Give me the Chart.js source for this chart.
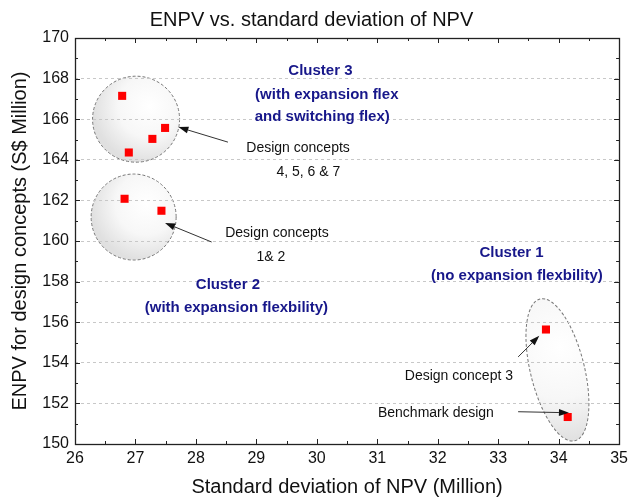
<!DOCTYPE html>
<html>
<head>
<meta charset="utf-8">
<script src="https://cdn.jsdelivr.net/npm/chart.js@4/dist/chart.umd.min.js"></script>
<style>
  html, body { margin:0; padding:0; background:#fff; }
  #wrap { width:633px; height:499px; }
</style>
</head>
<body>
<div id="wrap"><canvas id="chart" width="633" height="499"></canvas></div>
<script>
// ENPV vs. standard deviation of NPV - scatter with cluster annotations

// data (Million)
const conceptNames = ["4", "5", "6", "7", "1", "2", "3", "Benchmark"];
const stdNpv = [26.78, 26.89, 27.28, 27.49, 26.82, 27.43, 33.79, 34.15];
const enpv   = [167.15, 164.36, 165.03, 165.57, 162.08, 161.49, 155.64, 151.33];

// axes
const xMin = 26, xMax = 35, xStep = 1;
const yMin = 150, yMax = 170, yStep = 2;

const FONT = '"Liberation Sans", Arial, sans-serif';
const NAVY = "#17178a";

// shaded groups (centre in data units, radii in px)
const groups = [
  { cx: 27.01, cy: 166.0, rx: 43.5, ry: 43, rot: 0 },
  { cx: 26.97, cy: 161.18, rx: 42.5, ry: 43, rot: 0 },
  { cx: 33.98, cy: 153.65, rx: 27, ry: 73, rot: -13.8 }
];

// arrows: from -> to (data units)
const arrows = [
  [28.53, 164.87, 27.71, 165.61],
  [28.26, 159.95, 27.49, 160.89],
  [33.33, 154.29, 33.68, 155.33],
  [33.33, 151.59, 34.17, 151.54]
];

const notes = [
  { t: "Cluster 3", x: 30.06, y: 168.36, bold: true },
  { t: "(with expansion flex", x: 30.165, y: 167.18, bold: true },
  { t: "and switching flex)", x: 30.09, y: 166.10, bold: true },
  { t: "Design concepts", x: 29.69, y: 164.57 },
  { t: "4, 5, 6 & 7", x: 29.86, y: 163.39 },
  { t: "Design concepts", x: 29.34, y: 160.39 },
  { t: "1& 2", x: 29.24, y: 159.21 },
  { t: "Cluster 2", x: 28.53, y: 157.83, bold: true },
  { t: "(with expansion flexbility)", x: 28.67, y: 156.70, bold: true },
  { t: "Cluster 1", x: 33.22, y: 159.41, bold: true },
  { t: "(no expansion flexbility)", x: 33.31, y: 158.28, bold: true },
  { t: "Design concept 3", x: 32.35, y: 153.36 },
  { t: "Benchmark design", x: 31.97, y: 151.54 }
];

function drawBlob(ctx, cx, cy, g){
  ctx.save();
  ctx.translate(cx, cy);
  ctx.rotate(g.rot * Math.PI / 180);
  const r = Math.max(g.rx, g.ry);
  const grad = ctx.createRadialGradient(g.rx*0.3, -g.ry*0.3, 0, g.rx*0.3, -g.ry*0.3, r*1.3);
  grad.addColorStop(0, "#ffffff");
  grad.addColorStop(0.55, "#f7f7f7");
  grad.addColorStop(1, "#e0e0e0");
  ctx.beginPath();
  ctx.ellipse(0, 0, g.rx, g.ry, 0, 0, Math.PI*2);
  ctx.fillStyle = grad;
  ctx.fill();
  ctx.setLineDash([3, 2]);
  ctx.strokeStyle = "#777";
  ctx.lineWidth = 1;
  ctx.stroke();
  ctx.restore();
}

function drawArrow(ctx, x1, y1, x2, y2){
  const a = Math.atan2(y2 - y1, x2 - x1);
  const hl = 10, hw = 3.5;
  ctx.save();
  ctx.strokeStyle = "#333";
  ctx.fillStyle = "#111";
  ctx.lineWidth = 1;
  ctx.beginPath();
  ctx.moveTo(x1, y1);
  ctx.lineTo(x2 - hl*Math.cos(a), y2 - hl*Math.sin(a));
  ctx.stroke();
  ctx.translate(x2, y2);
  ctx.rotate(a);
  ctx.beginPath();
  ctx.moveTo(0, 0);
  ctx.lineTo(-hl, -hw);
  ctx.lineTo(-hl, hw);
  ctx.closePath();
  ctx.fill();
  ctx.restore();
}

const decor = {
  id: "decor",
  beforeDraw(chart){
    const { ctx, scales: { x, y } } = chart;
    ctx.save();
    ctx.fillStyle = "#fff";
    ctx.fillRect(0, 0, chart.width, chart.height);
    ctx.restore();
    for (const g of groups) drawBlob(ctx, x.getPixelForValue(g.cx), y.getPixelForValue(g.cy), g);
  },
  afterDatasetsDraw(chart){
    const { ctx, scales: { x, y } } = chart;
    for (const a of arrows){
      drawArrow(ctx, x.getPixelForValue(a[0]), y.getPixelForValue(a[1]), x.getPixelForValue(a[2]), y.getPixelForValue(a[3]));
    }
    ctx.save();
    ctx.textAlign = "center";
    ctx.textBaseline = "middle";
    for (const n of notes){
      ctx.font = n.bold ? "bold 15px " + FONT : "14px " + FONT;
      ctx.fillStyle = n.bold ? NAVY : "#111";
      ctx.fillText(n.t, x.getPixelForValue(n.x), y.getPixelForValue(n.y));
    }
    ctx.restore();
  },
  afterDraw(chart){
    // frame + inward ticks on all four sides
    const { ctx, chartArea: ca, scales: { x, y } } = chart;
    ctx.save();
    ctx.strokeStyle = "#222";
    ctx.lineWidth = 1;
    ctx.beginPath();
    for (let v = xMin; v <= xMax + 1e-9; v += xStep/2){
      const px = Math.round(x.getPixelForValue(v)) + 0.5;
      const len = Math.abs(v - Math.round(v)) < 1e-9 ? 5 : 3;
      ctx.moveTo(px, ca.bottom); ctx.lineTo(px, ca.bottom - len);
      ctx.moveTo(px, ca.top); ctx.lineTo(px, ca.top + len);
    }
    for (let v = yMin; v <= yMax + 1e-9; v += yStep/2){
      const py = Math.round(y.getPixelForValue(v)) + 0.5;
      const len = (v - yMin) % yStep === 0 ? 5 : 3;
      ctx.moveTo(ca.left, py); ctx.lineTo(ca.left + len, py);
      ctx.moveTo(ca.right, py); ctx.lineTo(ca.right - len, py);
    }
    ctx.stroke();
    ctx.lineWidth = 1.3;
    ctx.strokeRect(Math.round(ca.left) + 0.5, Math.round(ca.top) + 0.5, Math.round(ca.right - ca.left), Math.round(ca.bottom - ca.top));
    ctx.restore();
  }
};

Chart.defaults.font.family = FONT;
Chart.defaults.color = "#111";

new Chart(document.getElementById("chart"), {
  type: "scatter",
  data: {
    datasets: [{
      label: "Design concepts",
      data: stdNpv.map((v, i) => ({ x: v, y: enpv[i], name: conceptNames[i] })),
      pointStyle: "rect",
      pointRadius: 5.7,
      pointHoverRadius: 5.7,
      borderWidth: 0,
      backgroundColor: "#ff0000"
    }]
  },
  options: {
    responsive: false,
    animation: false,
    events: [],
    layout: { padding: { left: 0, right: 10, top: 0, bottom: 0 } },
    plugins: {
      legend: { display: false },
      tooltip: { enabled: false },
      title: {
        display: true,
        text: "ENPV vs. standard deviation of NPV",
        font: { size: 20, weight: "normal" },
        color: "#111",
        padding: { top: 8, bottom: 6 }
      }
    },
    scales: {
      x: {
        type: "linear",
        min: xMin, max: xMax,
        ticks: { stepSize: xStep, font: { size: 16 }, padding: 5, color: "#111" },
        grid: { display: false, drawTicks: false },
        border: { display: false },
        title: { display: true, text: "Standard deviation of NPV (Million)", font: { size: 20 }, color: "#111", padding: { top: 0, bottom: 0 } },
        afterFit(s){ s.height = 55; }
      },
      y: {
        type: "linear",
        min: yMin, max: yMax,
        ticks: { stepSize: yStep, font: { size: 16 }, padding: 6, color: "#111" },
        grid: {
          drawTicks: false,
          lineWidth: 1,
          color: c => (c.tick && c.tick.value > yMin && c.tick.value < yMax) ? "#c8c8c8" : "rgba(0,0,0,0)"
        },
        border: { display: false, dash: [3, 3] },
        title: { display: true, text: "ENPV for design concepts (S$ Million)", font: { size: 20 }, color: "#111", padding: { top: 8, bottom: 0 } },
        afterFit(s){ s.width = 75; }
      }
    }
  },
  plugins: [decor]
});
</script>
</body>
</html>
